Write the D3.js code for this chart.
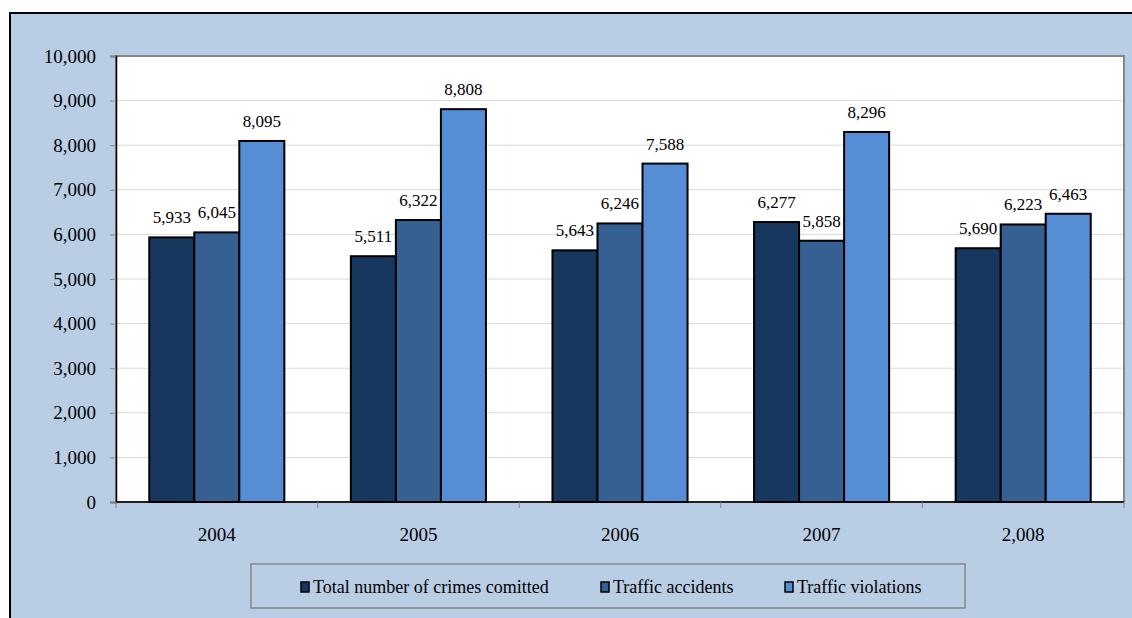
<!DOCTYPE html>
<html>
<head>
<meta charset="utf-8">
<script src="https://cdn.jsdelivr.net/npm/d3@7"></script>
<style>
  body { margin: 0; background: #fff; }
</style>
</head>
<body>
<svg id="chart" width="1132" height="618"></svg>
<script>
var years    = ["2004", "2005", "2006", "2007", "2,008"];
var series   = ["Total number of crimes comitted", "Traffic accidents", "Traffic violations"];
var crimes    = [5933, 5511, 5643, 6277, 5690];
var accidents = [6045, 6322, 6246, 5858, 6223];
var violations = [8095, 8808, 7588, 8296, 6463];
var yTicks   = [0, 1000, 2000, 3000, 4000, 5000, 6000, 7000, 8000, 9000, 10000];
var colors   = ["#17375E", "#366092", "#558ED5"];

var serif = "'Times New Roman', 'Liberation Serif', 'DejaVu Serif', serif";
var svg = d3.select("#chart").style("font-family", serif);
var plot = {left: 116, right: 1124, top: 56, bottom: 502};
var fmt = d3.format(",");

// outer frame
svg.append("rect").attr("x", 10).attr("y", 13).attr("width", 1140).attr("height", 620)
   .style("fill", "#B9CDE5").style("stroke", "#000").style("stroke-width", 2);

// plot area
svg.append("rect").attr("x", plot.left).attr("y", plot.top)
   .attr("width", plot.right - plot.left).attr("height", plot.bottom - plot.top)
   .style("fill", "#fff").style("stroke", "#868686").style("stroke-width", 2);

var x0 = d3.scaleBand().domain(years).range([plot.left, plot.right]).paddingInner(0.33).paddingOuter(0.165);
var x1 = d3.scaleBand().domain(d3.range(3)).range([0, x0.bandwidth()]);
var y  = d3.scaleLinear().domain([0, 10000]).range([plot.bottom, plot.top]);

// gridlines
svg.append("g").selectAll("line").data(yTicks.slice(1, -1)).join("line")
   .attr("x1", plot.left + 1).attr("x2", plot.right - 1)
   .attr("y1", d => y(d)).attr("y2", d => y(d))
   .style("stroke", "#D9D9D9").style("stroke-width", 1);

// y axis
var yAxis = svg.append("g").attr("transform", "translate(" + plot.left + ",0)")
   .call(d3.axisLeft(y).tickValues(yTicks).tickFormat(fmt).tickSize(6).tickPadding(14));
yAxis.attr("font-family", null).attr("font-size", null);
yAxis.select(".domain").style("stroke", "#000").style("stroke-width", 1.5);
yAxis.selectAll(".tick line").style("stroke", "#868686");
yAxis.selectAll("text").style("font-size", "19px").style("font-family", serif).style("fill", "#000");

// x axis
var bounds = d3.range(years.length + 1).map(i => plot.left + i * (plot.right - plot.left) / years.length);
svg.append("line").attr("x1", plot.left).attr("x2", plot.right).attr("y1", plot.bottom).attr("y2", plot.bottom)
   .style("stroke", "#000").style("stroke-width", 1.5);
svg.append("g").selectAll("line").data(bounds).join("line")
   .attr("x1", d => d).attr("x2", d => d).attr("y1", plot.bottom).attr("y2", plot.bottom + 6)
   .style("stroke", "#868686");
svg.append("g").selectAll("text").data(years).join("text")
   .attr("x", d => x0(d) + x0.bandwidth() / 2).attr("y", 541)
   .attr("text-anchor", "middle").style("font-size", "19px").style("font-family", serif).text(d => d);

// bars
var rows = years.map((yr, i) => ({year: yr, vals: [crimes[i], accidents[i], violations[i]]}));
var groups = svg.append("g").selectAll("g").data(rows).join("g")
   .attr("transform", d => "translate(" + x0(d.year) + ",0)");
groups.selectAll("rect").data(d => d.vals).join("rect")
   .attr("x", (d, i) => x1(i)).attr("width", x1.bandwidth())
   .attr("y", d => y(d)).attr("height", d => plot.bottom - y(d))
   .style("fill", (d, i) => colors[i]).style("stroke", "#000").style("stroke-width", 2);
groups.selectAll("text").data(d => d.vals).join("text")
   .attr("x", (d, i) => x1(i) + x1.bandwidth() / 2).attr("y", d => y(d) - 14)
   .attr("text-anchor", "middle").style("font-size", "17px").style("font-family", serif).text(d => fmt(d));

// legend
svg.append("rect").attr("x", 251).attr("y", 564).attr("width", 714).attr("height", 44)
   .style("fill", "none").style("stroke", "#868686").style("stroke-width", 1.5);
var legX = [301, 601, 785];
var leg = svg.append("g").selectAll("g").data(series).join("g")
   .attr("transform", (d, i) => "translate(" + legX[i] + ",587)");
leg.append("rect").attr("x", 0).attr("y", -5).attr("width", 8).attr("height", 10)
   .style("fill", (d, i) => colors[i]).style("stroke", "#000").style("stroke-width", 1.5);
leg.append("text").attr("x", 12).attr("y", 6).style("font-size", "18px").style("font-family", serif).text(d => d);
</script>
</body>
</html>
